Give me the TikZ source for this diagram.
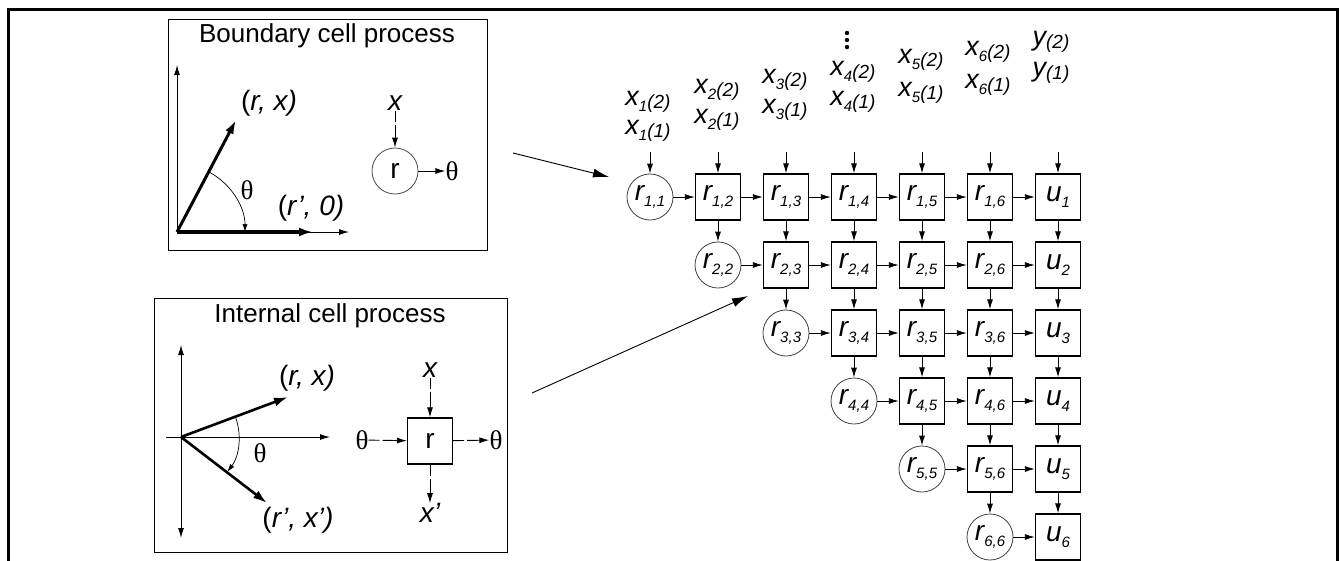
\documentclass[tikz,border=0pt]{standalone}
\usepackage{fontspec}
\setmainfont{Liberation Sans}
\newfontfamily\thetafont{Liberation Serif}
\usetikzlibrary{arrows.meta}
\newcommand\cellr[2]{{\fontsize{28}{28}\selectfont\itshape r\raisebox{-6pt}{\fontsize{15}{15}\selectfont #1,#2}}}
\newcommand\cellu[1]{{\fontsize{28}{28}\selectfont\itshape u\raisebox{-6pt}{\fontsize{15}{15}\selectfont #1}}}
\newcommand\xin[3]{{\fontsize{27}{27}\selectfont\itshape #1\raisebox{-6pt}{\fontsize{15}{15}\selectfont #2}\raisebox{-3pt}{\fontsize{19}{19}\selectfont (#3)}}}
\newcommand\yin[1]{{\fontsize{27}{27}\selectfont\itshape y\raisebox{-3pt}{\fontsize{19}{19}\selectfont (#1)}}}
\newcommand\lbl{\fontsize{28}{30}\selectfont}
\newcommand\ttl{\fontsize{26}{28}\selectfont}
\newcommand\thet{{\fontsize{27}{28}\selectfont\thetafont θ}}
\begin{document}
\begin{tikzpicture}[x=1pt,y=-1pt,
  cbox/.style={draw, line width=1.4pt, minimum width=45pt, minimum height=46pt, inner sep=0pt},
  ccirc/.style={draw=black!75, line width=0.8pt, circle, minimum size=46pt, inner sep=0pt},
  arr/.style={-{Latex[length=10pt,width=6pt]}, line width=0.9pt},
  bigarr/.style={-{Latex[length=16pt,width=9pt]}, line width=0.9pt},
  darr/.style={arr, dash pattern=on 11pt off 3pt on 60pt off 0pt},
  vec/.style={-{Latex[length=14pt,width=9pt]}, line width=3pt},
  axis/.style={-{Latex[length=10pt,width=6pt]}, line width=1pt},
  panel/.style={draw, line width=1.2pt, inner sep=0pt, anchor=north west},
  txt/.style={inner sep=0pt}]
\useasboundingbox (0,0) rectangle (1340,560);
\draw[line width=3pt] (8,580) -- (8,9) -- (1337,9) -- (1337,580);

% ---------------- Boundary cell panel
\node[panel, minimum width=319pt, minimum height=231pt] (bpanel) at (168,19) {};
\node[txt, anchor=base] (btitle) at (327,42) {\ttl Boundary cell process};
\coordinate (bo) at (177,232);
\coordinate (byt) at (177,65);
\coordinate (bxt) at (349,232);
\coordinate (bv1) at (236,120);
\coordinate (bv2) at (313,232);
\draw[axis] (bo) -- (byt);
\draw[axis] (bo) -- (bxt);
\draw[vec, line width=4pt] (bo) -- (bv2);
\draw[vec] (bo) -- (bv1);
\draw[-{Latex[length=8pt,width=5pt]}, line width=0.7pt] ([shift={(62:68pt)}]bo) arc[start angle=62, end angle=0, radius=68pt];
\node[txt] (brx) at (269,103) {\lbl (\textit{r, x)}};
\node[txt] (bth) at (247,190) {\thet};
\node[txt] (br0) at (311,208) {\lbl (\textit{r’, 0)}};
\node[txt] (bx) at (395,103) {\lbl\itshape x};
\node[ccirc, draw=black!70] (bc) at (395,171) {\lbl r};
\node[txt] (bthout) at (452,171) {\thet};
\draw[darr] (bx) -- (bc);
\draw[arr] (bc) -- (bthout);

% ---------------- Internal cell panel
\node[panel, minimum width=353pt, minimum height=254pt] (ipanel) at (154,298) {};
\node[txt, anchor=base] (ititle) at (330,322) {\ttl Internal cell process};
\coordinate (io) at (181,437);
\coordinate (iyt) at (181,345);
\coordinate (iyb) at (181,538);
\coordinate (ixl) at (166,437);
\coordinate (ixr) at (330,437);
\coordinate (iv1) at (288,397);
\coordinate (iv2) at (267,503);
\draw[axis, {Latex[length=10pt,width=6pt]}-{Latex[length=10pt,width=6pt]}] (iyt) -- (iyb);
\draw[axis] (ixl) -- (ixr);
\draw[vec, line width=2.6pt] (io) -- (iv1);
\draw[vec, line width=2.6pt] (io) -- (iv2);
\draw[-{Latex[length=8pt,width=5pt]}, line width=0.7pt] ([shift={(20:58pt)}]io) arc[start angle=20, end angle=-37, radius=58pt];
\node[txt] (irx) at (307,378) {\lbl (\textit{r, x)}};
\node[txt] (ith) at (260,453) {\thet};
\node[txt] (irx2) at (298,520) {\lbl (\textit{r’, x’)}};
\node[cbox] (ib) at (430,441) {\lbl r};
\node[txt] (ithl) at (362,440) {\thet};
\node[txt] (ithr) at (496,440) {\thet};
\node[txt] (ixin) at (430,370) {\lbl\itshape x};
\node[txt] (ixout) at (430,513) {\lbl\itshape x’};
\draw[darr] (ithl) -- (ib);
\draw[darr] (ib) -- (ithr);
\draw[darr] (ixin) -- (ib);
\draw[darr] (ib) -- (ixout);

% ---------------- big arrows
\coordinate (ba1) at (513,153);
\coordinate (ba2) at (609,177);
\coordinate (bb1) at (532,393);
\coordinate (bb2) at (748,296);
\draw[bigarr] (ba1) -- (ba2);
\draw[bigarr] (bb1) -- (bb2);

% ---------------- array
\foreach \i in {1,...,6}{
  \node[ccirc] (c-\i-\i) at ({650+68*(\i-1)},{197+68*(\i-1)}) {\cellr{\i}{\i}};
  \foreach \j in {\i,...,6}{
    \ifnum\j>\i
      \node[cbox] (c-\i-\j) at ({650+68*(\j-1)},{197+68*(\i-1)}) {\cellr{\i}{\j}};
    \fi
  }
  \node[cbox] (c-\i-7) at (1058,{197+68*(\i-1)}) {\cellu{\i}};
}
\foreach \i in {1,...,6}{
  \foreach \j in {\i,...,6}{
    \pgfmathtruncatemacro\jj{\j+1}
    \draw[arr] (c-\i-\j) -- (c-\i-\jj);
  }
}
\foreach \i in {1,...,5}{
  \pgfmathtruncatemacro\ii{\i+1}
  \foreach \j in {\ii,...,7}{
    \draw[arr] (c-\i-\j) -- (c-\ii-\j);
  }
}
\foreach \j in {1,...,7}{
  \coordinate (in-\j) at ({650+68*(\j-1)},152);
  \draw[arr] (in-\j) -- (c-1-\j);
}

% top labels
\node[txt] (l1b) at (648,102) {\xin{x}{1}{2}};
\node[txt] (l1a) at (648,131) {\xin{x}{1}{1}};
\node[txt] (l2b) at (717,90) {\xin{x}{2}{2}};
\node[txt] (l2a) at (717,120) {\xin{x}{2}{1}};
\node[txt] (l3b) at (785,80) {\xin{x}{3}{2}};
\node[txt] (l3a) at (785,110) {\xin{x}{3}{1}};
\node[txt] (l4b) at (853,72) {\xin{x}{4}{2}};
\node[txt] (l4a) at (853,102) {\xin{x}{4}{1}};
\node[txt] (l5b) at (921,60) {\xin{x}{5}{2}};
\node[txt] (l5a) at (921,93) {\xin{x}{5}{1}};
\node[txt] (l6b) at (988,52) {\xin{x}{6}{2}};
\node[txt] (l6a) at (988,85) {\xin{x}{6}{1}};
\node[txt] (l7b) at (1051,42) {\yin{2}};
\node[txt] (l7a) at (1051,73) {\yin{1}};
\foreach \yy in {33,40,47}{ \fill (847,\yy) circle[radius=2.2pt]; }
\end{tikzpicture}
\end{document}
